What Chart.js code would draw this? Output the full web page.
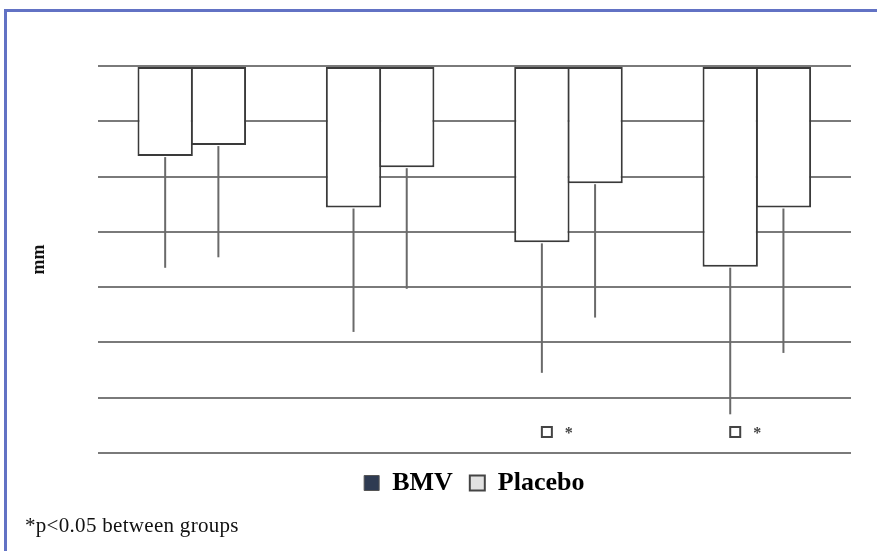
<!DOCTYPE html>
<html>
<head>
<meta charset="utf-8">
<script src="https://cdn.jsdelivr.net/npm/chart.js@4"></script>
<style>
  body { margin: 0; background: #fff; }
  #wrap { position: relative; width: 877px; height: 551px; }
  #frame { position: absolute; left: 4px; top: 9px; right: 0; bottom: 0;
           border-top: 3px solid #6272c4; border-left: 3px solid #6272c4; pointer-events: none; }
  #note { position: absolute; left: 25px; top: 513px; font-family: "Liberation Serif", serif;
          font-size: 21px; letter-spacing: 0.3px; color: #111; }
</style>
</head>
<body>
<div id="wrap">
  <canvas id="myChart" width="877" height="551"></canvas>
  <div id="frame"></div>
  <div id="note">*p&lt;0.05 between groups</div>
</div>
<script>
    // data (mm, negative = downward)
    var groups = ['1', '2', '3', '4'];
    var bmvMean = [-1.63, -2.56, -3.19, -3.63];
    var bmvSd = [2.02, 2.25, 2.36, 2.67];
    var placeboMean = [-1.43, -1.83, -2.12, -2.56];
    var placeboSd = [2.03, 2.20, 2.43, 2.63];
    var significant = [false, false, true, true];
    var yMin = -7, yMax = 0, yStep = 1;

    // error bars drawn downward from each bar end
    var errorBars = {
        id: 'errorBars',
        afterDatasetsDraw: function(chart) {
            var ctx = chart.ctx, y = chart.scales.y;
            chart.data.datasets.forEach(function(ds, i) {
                chart.getDatasetMeta(i).data.forEach(function(bar, j) {
                    var yEnd = y.getPixelForValue(ds.data[j] - ds.sd[j]);
                    ctx.save();
                    ctx.strokeStyle = '#6a6a6a';
                    ctx.lineWidth = 2;
                    ctx.beginPath();
                    ctx.moveTo(bar.x, bar.y + 1);
                    ctx.lineTo(bar.x, yEnd);
                    ctx.stroke();
                    ctx.restore();
                });
            });
        }
    };

    // "□ *" marks under the significant groups
    var sigMarks = {
        id: 'sigMarks',
        afterDatasetsDraw: function(chart) {
            var ctx = chart.ctx, y = chart.scales.y;
            var yy = y.getPixelForValue(-6.62);
            chart.getDatasetMeta(0).data.forEach(function(bar, j) {
                if (!significant[j]) return;
                ctx.save();
                ctx.strokeStyle = '#444';
                ctx.lineWidth = 2;
                ctx.strokeRect(bar.x, yy - 5, 10, 10);
                ctx.fillStyle = '#444';
                ctx.font = 'bold 16px "Liberation Serif"';
                ctx.textAlign = 'center';
                ctx.textBaseline = 'middle';
                ctx.fillText('*', bar.x + 27, yy + 2);
                ctx.restore();
            });
        }
    };

    var ctx = document.getElementById('myChart').getContext('2d');
    var chart = new Chart(ctx, {
        type: 'bar',
        data: {
            labels: groups,
            datasets: [
                {
                    label: 'BMV',
                    backgroundColor: '#ffffff',
                    borderColor: '#3a3a3a',
                    borderWidth: 2,
                    borderSkipped: false,
                    data: bmvMean,
                    sd: bmvSd
                },
                {
                    label: 'Placebo',
                    backgroundColor: '#ffffff',
                    borderColor: '#3a3a3a',
                    borderWidth: 2,
                    borderSkipped: false,
                    data: placeboMean,
                    sd: placeboSd
                }
            ]
        },
        options: {
            responsive: false,
            animation: false,
            layout: { padding: { left: 8, right: 26, top: 66, bottom: 45 } },
            datasets: { bar: { categoryPercentage: 0.565, barPercentage: 1.04 } },
            plugins: {
                tooltip: { enabled: false },
                legend: {
                    position: 'bottom',
                    fullSize: false,
                    labels: {
                        boxWidth: 15,
                        boxHeight: 15,
                        padding: 17,
                        color: '#111',
                        font: { family: 'Liberation Serif', weight: 'bold', size: 26 },
                        generateLabels: function() {
                            return [
                                { text: 'BMV', fillStyle: '#2f3b52', strokeStyle: '#555', lineWidth: 1, datasetIndex: 0 },
                                { text: 'Placebo', fillStyle: '#e2e2e2', strokeStyle: '#444', lineWidth: 2, datasetIndex: 1 }
                            ];
                        }
                    }
                }
            },
            scales: {
                x: { display: false },
                y: {
                    min: yMin,
                    max: yMax,
                    ticks: { display: false, stepSize: yStep },
                    border: { display: false },
                    grid: { color: '#7a7a7a', lineWidth: 2, drawTicks: false },
                    title: {
                        display: true,
                        text: 'mm',
                        color: '#111',
                        font: { family: 'Liberation Serif', weight: 'bold', size: 18 },
                        padding: { top: 21, bottom: 47 }
                    }
                }
            }
        },
        plugins: [errorBars, sigMarks]
    });
</script>
</body>
</html>
